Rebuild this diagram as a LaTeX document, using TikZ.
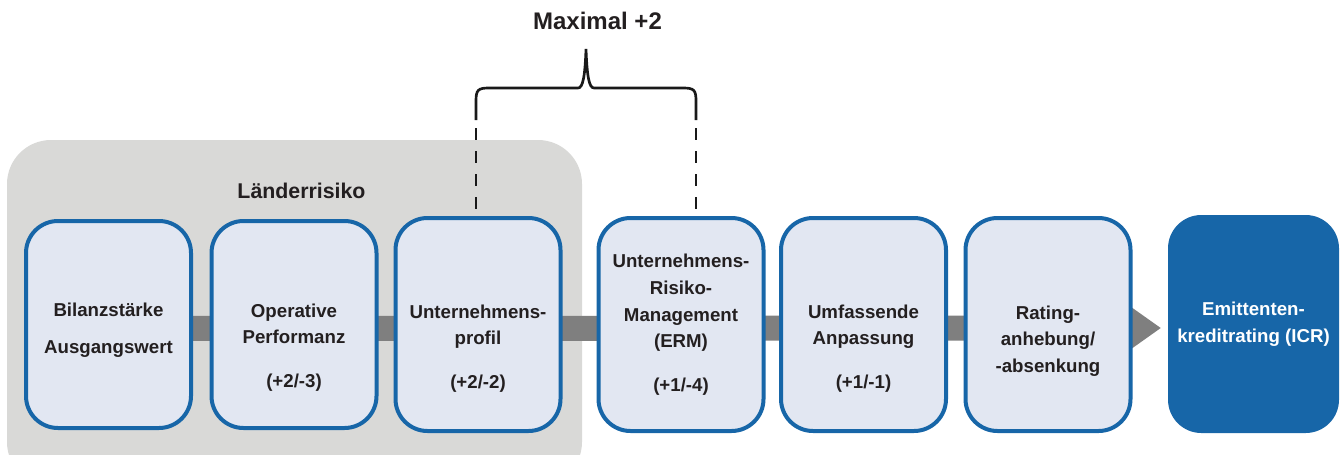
\documentclass[tikz,border=0pt]{standalone}
\usepackage{fontspec}
\setmainfont{Liberation Sans}
\usetikzlibrary{arrows.meta,backgrounds}
\definecolor{bggrau}{HTML}{D9D9D7}
\definecolor{boxfuell}{HTML}{E2E7F2}
\definecolor{boxblau}{HTML}{1766A8}
\definecolor{pfeilgrau}{HTML}{7F7F7F}
\definecolor{textdunkel}{HTML}{231F20}
\tikzset{
	stufe/.style={draw=boxblau, line width=3pt, fill=boxfuell, rounded corners=24pt, minimum width=123.75pt, minimum height=159.75pt, inner sep=0pt, align=center, text=textdunkel, font=\bfseries\fontsize{14}{20}\selectfont},
	stufetext/.style={align=center, text=textdunkel, font=\bfseries\fontsize{14}{20}\selectfont},
	klammer/.style={draw=black!90, line width=2pt},
	gestrichelt/.style={klammer, dash pattern=on 9pt off 8.25pt},
	pfeil/.style={draw=pfeilgrau, line width=18.75pt, -{Triangle[length=22.5pt,width=30pt]}, shorten >=3.75pt}
}
\begin{document}
\begin{tikzpicture}[x=0.75pt, y=-0.75pt]
			\useasboundingbox (0,0) rectangle (1341,454);
			\node (maximal) [stufetext, font=\bfseries\fontsize{18}{22}\selectfont] at (597.5,21) {Maximal +2};
			\node (laender) [stufetext, font=\bfseries\fontsize{16}{20}\selectfont] at (301.5,191.3) {Länderrisiko};

			\node (bilanz) [stufe, minimum height=155.25pt] at (108.5,324.5) {};
			\node (bilanztext) [stufetext] at ([yshift=-4.6pt]bilanz.center) {Bilanzstärke\\[7.75pt]Ausgangswert};
			\node (operativ) [stufe, minimum height=155.25pt] at (294,324.5) {};
			\node (operativtext) [stufetext] at ([yshift=-17pt]operativ.center) {Operative\\Performanz\\[12.5pt](+2/-3)};
			\node (profil) [stufe] at (478,324.5) {};
			\node (profiltext) [stufetext] at ([yshift=-17.8pt]profil.center) {Unternehmens-\\profil\\[12.5pt](+2/-2)};
			\node (erm) [stufe] at (681,324.5) {Unternehmens-\\Risiko-\\Management\\(ERM)\\[12.5pt](+1/-4)};
			\node (anpassung) [stufe] at (863.5,324.5) {};
			\node (anpassungtext) [stufetext] at ([yshift=-17.8pt]anpassung.center) {Umfassende\\Anpassung\\[12.5pt](+1/-1)};
			\node (rating) [stufe] at (1048,324.5) {};
			\node (ratingtext) [stufetext] at ([yshift=-12.5pt]rating.center) {Rating-\\anhebung/\\-absenkung};
			\node (icr) [stufe, draw=none, fill=boxblau, text=white, rounded corners=25pt, minimum width=128.25pt, minimum height=163.5pt] at (1253.5,324) {Emittenten-\\kreditrating (ICR)};

			\coordinate (links) at (476,128);
			\coordinate (rechts) at (696,128);
			\draw [klammer] (476,120) -- (476,101) .. controls (476,90) and (478,88) .. (489,88) -- (578,88) .. controls (583,88) and (585,76) .. (586,49) .. controls (587,76) and (589,88) .. (594,88) -- (683,88) .. controls (694,88) and (696,90) .. (696,101) -- (696,120);
			\draw [gestrichelt] (links) -- (links |- profil.north);
			\draw [gestrichelt] (rechts) -- (rechts |- erm.north);

			\begin{scope}[on background layer]
				\fill [bggrau, rounded corners=33pt] (7,140) rectangle (582,486);
				\draw [pfeil] ([yshift=-3pt]bilanz.center) -- ([yshift=-3pt]icr.west);
			\end{scope}
		\end{tikzpicture}
\end{document}
